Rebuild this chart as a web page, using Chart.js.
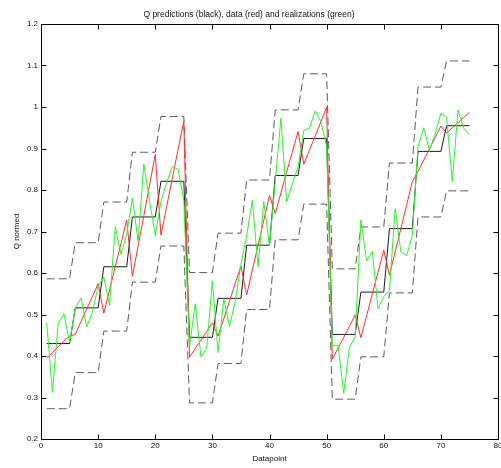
<!DOCTYPE html>
<html>
<head>
<meta charset="utf-8">
<script src="https://cdn.jsdelivr.net/npm/chart.js@4.4.0/dist/chart.umd.min.js"></script>
<style>
  html, body { margin: 0; padding: 0; background: #fff; }
</style>
</head>
<body>
<canvas id="qChart" width="501" height="468"></canvas>
<script>
// datapoint index (x)
const datapoints = [
  1, 2, 3, 4, 5, 6, 7, 8, 9, 10, 11, 12, 13, 14, 15, 16, 17, 18, 19, 20, 21, 22, 23, 24, 25,
  26, 27, 28, 29, 30, 31, 32, 33, 34, 35, 36, 37, 38, 39, 40, 41, 42, 43, 44, 45, 46, 47, 48, 49, 50,
  51, 52, 53, 54, 55, 56, 57, 58, 59, 60, 61, 62, 63, 64, 65, 66, 67, 68, 69, 70, 71, 72, 73, 74, 75
];

// Q predictions (black solid)
const predicted = [
  0.430, 0.430, 0.430, 0.430, 0.430, 0.516, 0.516, 0.516, 0.516, 0.516,
  0.615, 0.615, 0.615, 0.615, 0.615, 0.735, 0.735, 0.735, 0.735, 0.735,
  0.821, 0.821, 0.821, 0.821, 0.821, 0.445, 0.445, 0.445, 0.445, 0.445,
  0.539, 0.539, 0.539, 0.539, 0.539, 0.667, 0.667, 0.667, 0.667, 0.667,
  0.835, 0.835, 0.835, 0.835, 0.835, 0.924, 0.924, 0.924, 0.924, 0.924,
  0.452, 0.452, 0.452, 0.452, 0.452, 0.554, 0.554, 0.554, 0.554, 0.554,
  0.707, 0.707, 0.707, 0.707, 0.707, 0.893, 0.893, 0.893, 0.893, 0.893,
  0.955, 0.955, 0.955, 0.955, 0.955
];

// prediction bounds (black dashed)
const upperBound = [
  0.586, 0.586, 0.586, 0.586, 0.586, 0.673, 0.673, 0.673, 0.673, 0.673,
  0.771, 0.771, 0.771, 0.771, 0.771, 0.891, 0.891, 0.891, 0.891, 0.891,
  0.977, 0.977, 0.977, 0.977, 0.977, 0.601, 0.601, 0.601, 0.601, 0.601,
  0.696, 0.696, 0.696, 0.696, 0.696, 0.824, 0.824, 0.824, 0.824, 0.824,
  0.993, 0.993, 0.993, 0.993, 0.993, 1.080, 1.080, 1.080, 1.080, 1.080,
  0.610, 0.610, 0.610, 0.610, 0.610, 0.711, 0.711, 0.711, 0.711, 0.711,
  0.865, 0.865, 0.865, 0.865, 0.865, 1.048, 1.048, 1.048, 1.048, 1.048,
  1.111, 1.111, 1.111, 1.111, 1.111
];
const lowerBound = [
  0.273, 0.273, 0.273, 0.273, 0.273, 0.360, 0.360, 0.360, 0.360, 0.360,
  0.460, 0.460, 0.460, 0.460, 0.460, 0.578, 0.578, 0.578, 0.578, 0.578,
  0.665, 0.665, 0.665, 0.665, 0.665, 0.287, 0.287, 0.287, 0.287, 0.287,
  0.382, 0.382, 0.382, 0.382, 0.382, 0.512, 0.512, 0.512, 0.512, 0.512,
  0.680, 0.680, 0.680, 0.680, 0.680, 0.766, 0.766, 0.766, 0.766, 0.766,
  0.296, 0.296, 0.296, 0.296, 0.296, 0.398, 0.398, 0.398, 0.398, 0.398,
  0.552, 0.552, 0.552, 0.552, 0.552, 0.735, 0.735, 0.735, 0.735, 0.735,
  0.798, 0.798, 0.798, 0.798, 0.798
];

// data (red)
const measured = [
  0.395, 0.408, 0.422, 0.436, 0.448, 0.452, 0.483, 0.513, 0.543, 0.574,
  0.503, 0.559, 0.615, 0.671, 0.728, 0.592, 0.665, 0.738, 0.812, 0.886,
  0.691, 0.760, 0.829, 0.898, 0.966, 0.397, 0.418, 0.438, 0.459, 0.480,
  0.448, 0.490, 0.532, 0.575, 0.617, 0.547, 0.607, 0.667, 0.727, 0.787,
  0.743, 0.793, 0.843, 0.892, 0.941, 0.862, 0.896, 0.930, 0.965, 1.000,
  0.392, 0.419, 0.445, 0.472, 0.499, 0.444, 0.497, 0.550, 0.602, 0.655,
  0.595, 0.651, 0.707, 0.763, 0.820, 0.845, 0.872, 0.899, 0.926, 0.954,
  0.937, 0.950, 0.962, 0.975, 0.987
];

// realizations (green)
const realized = [
  0.480, 0.312, 0.477, 0.502, 0.433, 0.515, 0.540, 0.470, 0.505, 0.568,
  0.590, 0.522, 0.712, 0.645, 0.694, 0.780, 0.677, 0.862, 0.775, 0.690,
  0.772, 0.818, 0.857, 0.850, 0.775, 0.422, 0.526, 0.398, 0.418, 0.581,
  0.408, 0.538, 0.471, 0.532, 0.621, 0.690, 0.775, 0.615, 0.772, 0.665,
  0.820, 0.973, 0.772, 0.815, 0.856, 0.943, 0.949, 0.990, 0.965, 0.905,
  0.424, 0.426, 0.310, 0.421, 0.446, 0.728, 0.629, 0.652, 0.514, 0.543,
  0.558, 0.755, 0.651, 0.642, 0.690, 0.905, 0.950, 0.896, 0.935, 0.985,
  0.975, 0.820, 0.993, 0.949, 0.933
];

const xTicks = [0, 10, 20, 30, 40, 50, 60, 70, 80];
const yTicks = [0.2, 0.3, 0.4, 0.5, 0.6, 0.7, 0.8, 0.9, 1.0, 1.1, 1.2];

const FONT = "'Liberation Sans', Arial, Helvetica, sans-serif";

function toPoints(values) {
  return datapoints.map((d, i) => ({ x: d, y: values[i] }));
}

// MATLAB style box with inward ticks on all four sides
const axesBox = {
  id: 'axesBox',
  afterDatasetsDraw(chart) {
    const { ctx, chartArea: a, scales: { x, y } } = chart;
    const L = Math.round(a.left) + 0.5, R = Math.round(a.right) + 0.5;
    const T = Math.round(a.top) + 0.5, B = Math.round(a.bottom) + 0.5;
    const len = 5;
    ctx.save();
    ctx.strokeStyle = '#000';
    ctx.lineWidth = 1;
    ctx.strokeRect(L, T, R - L, B - T);
    ctx.beginPath();
    x.ticks.forEach(t => {
      const px = Math.round(x.getPixelForValue(t.value)) + 0.5;
      ctx.moveTo(px, B); ctx.lineTo(px, B - len);
      ctx.moveTo(px, T); ctx.lineTo(px, T + len);
    });
    y.ticks.forEach(t => {
      const py = Math.round(y.getPixelForValue(t.value)) + 0.5;
      ctx.moveTo(L, py); ctx.lineTo(L + len, py);
      ctx.moveTo(R, py); ctx.lineTo(R - len, py);
    });
    ctx.stroke();
    ctx.restore();
  }
};

const ctx = document.getElementById('qChart').getContext('2d');
const qChart = new Chart(ctx, {
  type: 'line',
  data: {
    datasets: [
      { label: 'realizations', data: toPoints(realized), borderColor: 'rgb(40,245,40)', borderWidth: 1 },
      { label: 'data', data: toPoints(measured), borderColor: 'rgb(255,45,45)', borderWidth: 1 },
      { label: 'prediction', data: toPoints(predicted), borderColor: '#1a1a1a', borderWidth: 1 },
      { label: 'upper', data: toPoints(upperBound), borderColor: '#5a5a5a', borderWidth: 1, borderDash: [8, 4] },
      { label: 'lower', data: toPoints(lowerBound), borderColor: '#5a5a5a', borderWidth: 1, borderDash: [8, 4] }
    ]
  },
  options: {
    responsive: false,
    devicePixelRatio: 1,
    animation: false,
    events: [],
    layout: { padding: { left: 0, right: 3, top: 0, bottom: 0 } },
    elements: {
      point: { radius: 0 },
      line: { tension: 0, fill: false }
    },
    plugins: {
      legend: { display: false },
      tooltip: { enabled: false },
      title: {
        display: true,
        text: 'Q predictions (black), data (red) and realizations (green)',
        color: '#111',
        font: { family: FONT, size: 8.5, weight: 'normal', lineHeight: 1.2 },
        padding: { top: 10, bottom: 3.8 }
      }
    },
    scales: {
      x: {
        type: 'linear',
        min: 0,
        max: 80,
        afterBuildTicks: s => { s.ticks = xTicks.map(v => ({ value: v })); },
        afterFit: s => { s.height = 29; s.paddingLeft = 0; s.paddingRight = 0; },
        grid: { display: false, drawTicks: false },
        border: { display: false },
        ticks: {
          color: '#111',
          padding: 2,
          maxRotation: 0,
          autoSkip: false,
          font: { family: FONT, size: 8 }
        },
        title: {
          display: true,
          text: 'Datapoint',
          color: '#111',
          font: { family: FONT, size: 8 },
          padding: { top: 0, bottom: 4 }
        }
      },
      y: {
        type: 'linear',
        min: 0.2,
        max: 1.2,
        afterBuildTicks: s => { s.ticks = yTicks.map(v => ({ value: v })); },
        afterFit: s => { s.width = 41; s.paddingTop = 0; s.paddingBottom = 0; },
        grid: { display: false, drawTicks: false },
        border: { display: false },
        ticks: {
          color: '#111',
          padding: 3,
          autoSkip: false,
          font: { family: FONT, size: 8 },
          callback: v => String(Number(v.toFixed(1)))
        },
        title: {
          display: true,
          text: 'Q normed',
          color: '#111',
          font: { family: FONT, size: 8 },
          padding: { top: 12, bottom: 0 }
        }
      }
    }
  },
  plugins: [axesBox]
});
</script>
</body>
</html>
